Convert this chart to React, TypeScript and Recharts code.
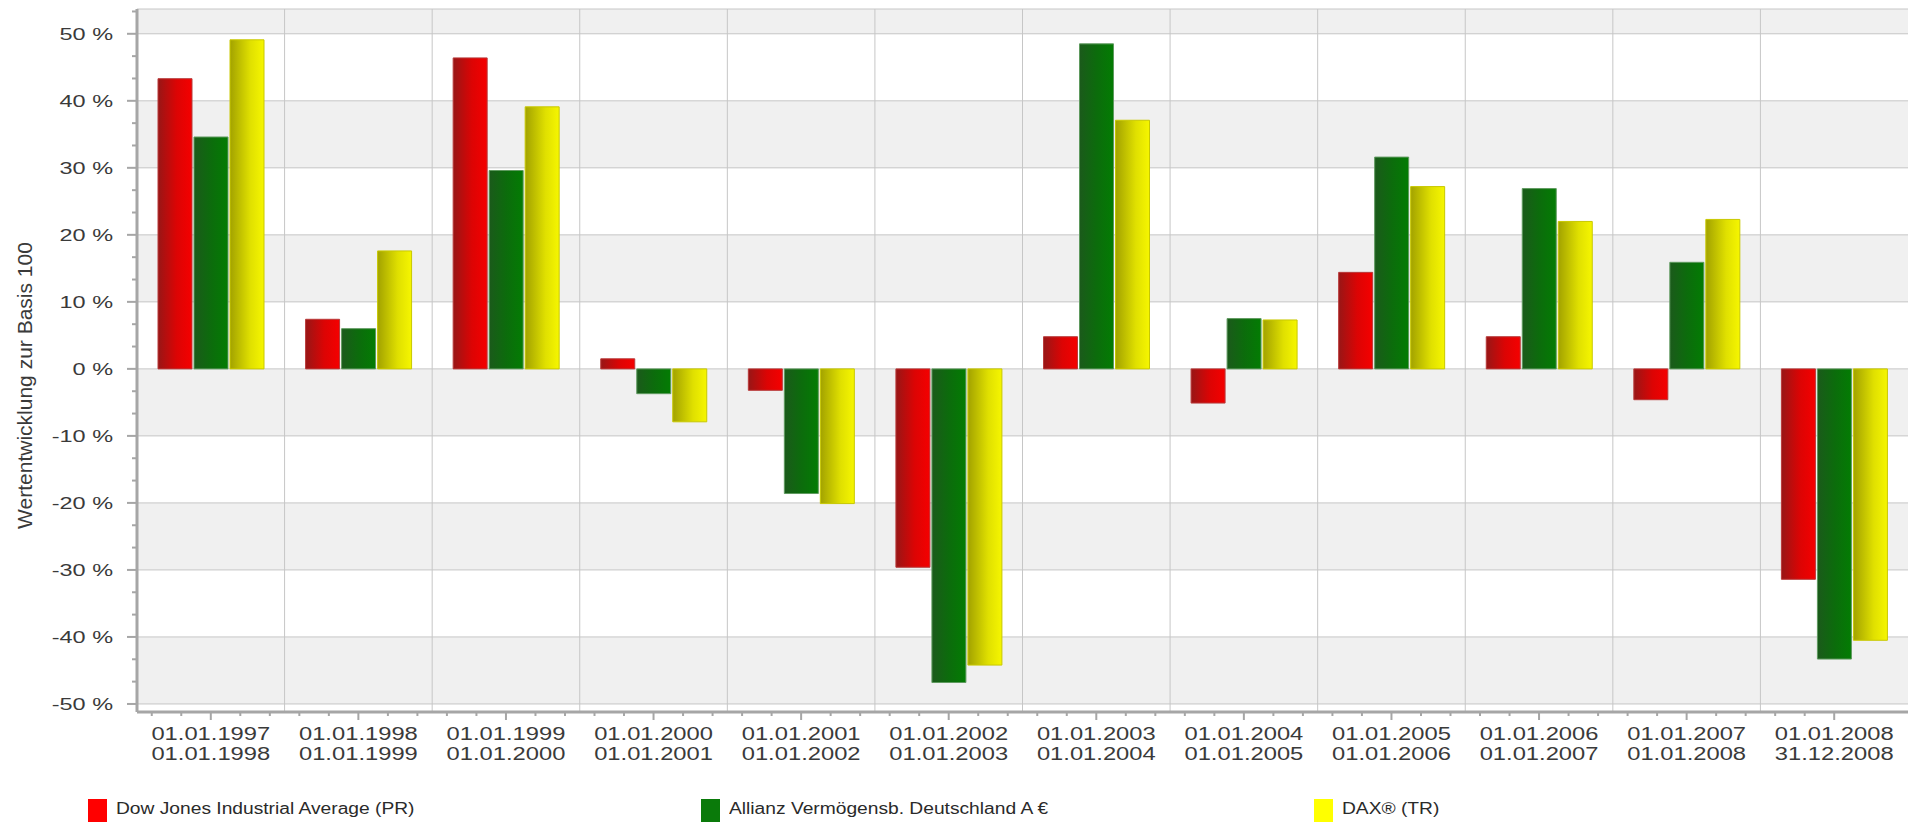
import React from 'react';
import { BarChart, Bar, XAxis, YAxis, CartesianGrid } from 'recharts';

const periodFrom = ['01.01.1997', '01.01.1998', '01.01.1999', '01.01.2000', '01.01.2001', '01.01.2002', '01.01.2003', '01.01.2004', '01.01.2005', '01.01.2006', '01.01.2007', '01.01.2008'];
const periodTo = ['01.01.1998', '01.01.1999', '01.01.2000', '01.01.2001', '01.01.2002', '01.01.2003', '01.01.2004', '01.01.2005', '01.01.2006', '01.01.2007', '01.01.2008', '31.12.2008'];

const dowJones = [43.3, 7.4, 46.4, 1.5, -3.2, -29.6, 4.8, -5.1, 14.4, 4.8, -4.6, -31.4];
const allianz = [34.6, 6.0, 29.6, -3.7, -18.6, -46.8, 48.5, 7.5, 31.6, 26.9, 15.9, -43.3];
const dax = [49.1, 17.6, 39.1, -7.9, -20.1, -44.2, 37.1, 7.3, 27.2, 22.0, 22.3, -40.5];

const seriesNames = ['Dow Jones Industrial Average (PR)', 'Allianz Vermögensb. Deutschland A €', 'DAX® (TR)'];
const legendColors = ['#ff0000', '#0a7a0a', '#ffff00'];

const yMajorTicks = [-50, -40, -30, -20, -10, 0, 10, 20, 30, 40, 50];
const yDomain: [number, number] = [-51.2, 53.7];
const yTitle = 'Wertentwicklung zur Basis 100';

// minor ticks every third of a major step
const yAllTicks: number[] = [];
yMajorTicks.forEach((m) => {
  yAllTicks.push(m, m + 10 / 3, m + 20 / 3);
});

const data = periodFrom.map((from, i) => ({
  from,
  to: periodTo[i],
  dow: dowJones[i],
  allianz: allianz[i],
  dax: dax[i],
}));

const W = 1912;
const H = 822;
const M = { top: 9, right: 4, left: 0, bottom: 50 };
const Y_W = 137;
const X_H = 60;
const PLOT_W = W - M.left - M.right - Y_W;
const BAND = PLOT_W / data.length;

const FONT = '"Liberation Sans", Arial, sans-serif';
const TXT = '#3a3a3a';
const AXIS = '#a6a6a6';

const YTick = (props: any) => {
  const { x, y, payload } = props;
  const v = payload.value;
  const major = yMajorTicks.some((m) => Math.abs(m - v) < 1e-6);
  return (
    <g>
      <line x1={x - (major ? 10 : 5)} x2={x} y1={y} y2={y} stroke={AXIS} strokeWidth={2} />
      {major && (
        <text
          transform={`translate(${x - 24},${y}) scale(1.38,1)`}
          textAnchor="end"
          dominantBaseline="central"
          fontSize={17}
          fontFamily={FONT}
          fill={TXT}
        >
          {`${Math.round(v)} %`}
        </text>
      )}
    </g>
  );
};

const XTick = (props: any) => {
  const { x, y, payload } = props;
  const idx = periodFrom.indexOf(payload.value);
  const last = idx === periodFrom.length - 1;
  const minor = last ? [-2, -1] : [-2, -1, 1, 2];
  return (
    <g>
      <line x1={x} x2={x} y1={y} y2={y + 8} stroke={AXIS} strokeWidth={2} />
      {minor.map((k) => (
        <line key={k} x1={x + (k * BAND) / 5} x2={x + (k * BAND) / 5} y1={y} y2={y + 4} stroke={AXIS} strokeWidth={2} />
      ))}
      <text transform={`translate(${x},${y}) scale(1.32,1)`} textAnchor="middle" fontSize={18} fontFamily={FONT} fill={TXT}>
        <tspan x={0} y={28}>{periodFrom[idx]}</tspan>
        <tspan x={0} y={48}>{periodTo[idx]}</tspan>
      </text>
    </g>
  );
};

const YTitle = (props: any) => {
  const { viewBox } = props;
  const cx = 32;
  const cy = viewBox.y + viewBox.height / 2 + 25;
  return (
    <text transform={`translate(${cx},${cy}) rotate(-90)`} textAnchor="middle" fontSize={21} fontFamily={FONT} fill={TXT}>
      {yTitle}
    </text>
  );
};

const toY = (v: number, offset: any) =>
  offset.top + ((yDomain[1] - v) / (yDomain[1] - yDomain[0])) * offset.height;

export default function App() {
  return (
    <div style={{ position: 'absolute', left: 0, top: 0, width: W, height: H, background: '#fff', fontFamily: FONT }}>
      <BarChart width={W} height={H} data={data} margin={M} barGap={2} barSize={34}>
        <defs>
          <linearGradient id="gRed" x1="0" y1="0" x2="1" y2="0">
            <stop offset="0%" stopColor="#981616" />
            <stop offset="55%" stopColor="#dc0404" />
            <stop offset="100%" stopColor="#f50000" />
          </linearGradient>
          <linearGradient id="gGreen" x1="0" y1="0" x2="1" y2="0">
            <stop offset="0%" stopColor="#1b5a1b" />
            <stop offset="50%" stopColor="#0c6c0c" />
            <stop offset="100%" stopColor="#037c03" />
          </linearGradient>
          <linearGradient id="gYellow" x1="0" y1="0" x2="1" y2="0">
            <stop offset="0%" stopColor="#a2a200" />
            <stop offset="60%" stopColor="#e0e000" />
            <stop offset="100%" stopColor="#f6f600" />
          </linearGradient>
        </defs>
        <CartesianGrid
          stroke="#c6c6c6"
          horizontalFill={['#f0f0f0', '#ffffff']}
          horizontalCoordinatesGenerator={({ yAxis, offset }: any) => {
            const sc = yAxis && typeof yAxis.scale === 'function' ? yAxis.scale : null;
            return [offset.top, ...yMajorTicks.slice().reverse().map((v) => (sc ? sc(v) : toY(v, offset)))];
          }}
          verticalCoordinatesGenerator={({ offset }: any) =>
            data.slice(1).map((_, i) => offset.left + ((i + 1) * offset.width) / data.length)
          }
        />
        <XAxis
          dataKey="from"
          height={X_H}
          interval={0}
          tickSize={0}
          tickMargin={0}
          tickLine={false}
          axisLine={{ stroke: AXIS, strokeWidth: 3 }}
          tick={<XTick />}
        />
        <XAxis xAxisId="top" orientation="top" dataKey="from" height={0} tick={false} tickLine={false} axisLine={{ stroke: AXIS, strokeWidth: 3 }} />
        <YAxis
          width={Y_W}
          domain={yDomain}
          ticks={yAllTicks}
          interval={0}
          allowDataOverflow
          tickSize={0}
          tickMargin={0}
          tickLine={false}
          axisLine={{ stroke: AXIS, strokeWidth: 3 }}
          tick={<YTick />}
          label={{ content: <YTitle /> }}
        />
        <YAxis yAxisId="right" orientation="right" width={0} domain={yDomain} allowDataOverflow tick={false} tickLine={false} axisLine={{ stroke: AXIS, strokeWidth: 3 }} />
        <Bar dataKey="dow" name={seriesNames[0]} fill="url(#gRed)" stroke="#b83a3a" strokeWidth={1} isAnimationActive={false} />
        <Bar dataKey="allianz" name={seriesNames[1]} fill="url(#gGreen)" stroke="#5f9a5f" strokeWidth={1} isAnimationActive={false} />
        <Bar dataKey="dax" name={seriesNames[2]} fill="url(#gYellow)" stroke="#c8c800" strokeWidth={1} isAnimationActive={false} />
      </BarChart>
      {seriesNames.map((name, i) => (
        <div key={name} style={{ position: 'absolute', left: 88 + i * 613, top: 799, height: 23 }}>
          <div style={{ position: 'absolute', left: 0, top: 0, width: 19, height: 23, background: legendColors[i] }} />
          <span
            style={{
              position: 'absolute',
              left: 28,
              top: 1,
              fontSize: 16,
              lineHeight: '18px',
              whiteSpace: 'nowrap',
              color: '#2a2a2a',
              transform: 'scaleX(1.2)',
              transformOrigin: 'left center',
            }}
          >
            {name}
          </span>
        </div>
      ))}
    </div>
  );
}
